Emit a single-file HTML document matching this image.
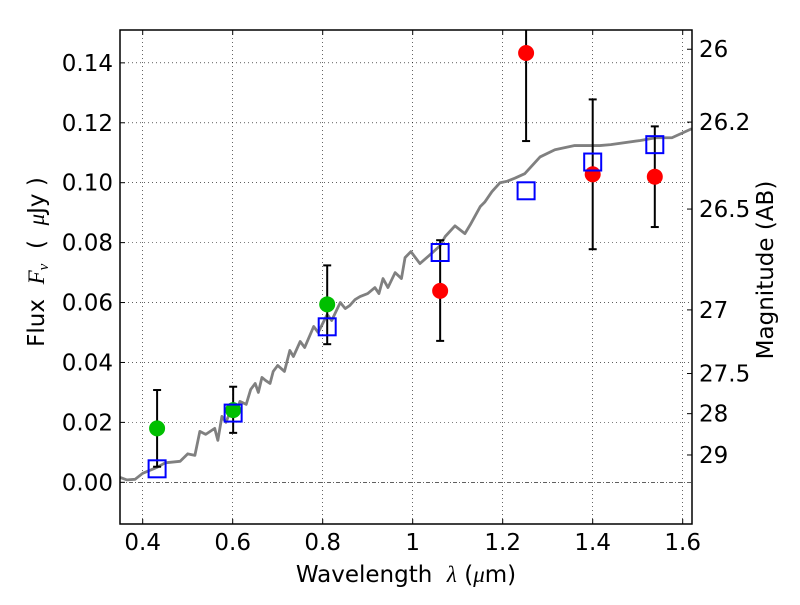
<!DOCTYPE html>
<html><head><meta charset="utf-8"><style>
body{margin:0;background:#fff;}
svg text{font-family:"DejaVu Sans","Liberation Sans",sans-serif;white-space:pre;}
</style></head><body>
<svg id="chart" width="800" height="600" xmlns="http://www.w3.org/2000/svg"></svg>
<script>
const xTicks=[0.4,0.6,0.8,1.0,1.2,1.4,1.6];
const xTickLabels=["0.4","0.6","0.8","1","1.2","1.4","1.6"];
const yTicks=[0,0.02,0.04,0.06,0.08,0.10,0.12,0.14];
const yTickLabels=["0.00","0.02","0.04","0.06","0.08","0.10","0.12","0.14"];
const magTicks=[26,26.2,26.5,27,27.5,28,29];
const magTickLabels=["26","26.2","26.5","27","27.5","28","29"];
const specWave=[0.35,0.365,0.383,0.40,0.432,0.45,0.483,0.50,0.516,0.527,0.54,0.56,0.567,0.576,0.585,0.598,0.607,0.616,0.63,0.64,0.65,0.657,0.665,0.673,0.683,0.69,0.70,0.715,0.727,0.735,0.75,0.76,0.78,0.79,0.81,0.82,0.839,0.85,0.86,0.872,0.883,0.9,0.916,0.925,0.934,0.945,0.961,0.975,0.983,0.996,1.016,1.039,1.061,1.072,1.094,1.116,1.128,1.15,1.16,1.176,1.194,1.21,1.227,1.249,1.283,1.316,1.36,1.416,1.44,1.506,1.54,1.576,1.62];
const specFlux=[0.0016,0.0008,0.001,0.003,0.005,0.0065,0.007,0.0095,0.009,0.017,0.016,0.018,0.014,0.022,0.020,0.025,0.023,0.027,0.026,0.031,0.033,0.030,0.035,0.034,0.033,0.037,0.039,0.037,0.044,0.042,0.047,0.045,0.052,0.050,0.056,0.054,0.060,0.058,0.059,0.061,0.062,0.063,0.065,0.063,0.068,0.065,0.070,0.068,0.075,0.077,0.073,0.076,0.079,0.082,0.0856,0.083,0.086,0.092,0.0935,0.097,0.100,0.1005,0.1015,0.103,0.1086,0.111,0.1124,0.1124,0.1127,0.1141,0.115,0.115,0.118];
const obsWave=[0.432,0.601,0.81,1.061,1.252,1.40,1.538];
const obsFlux=[0.018,0.0241,0.0594,0.0639,0.1433,0.1028,0.102];
const obsErrLow=[0.0052,0.0165,0.0461,0.0472,0.1139,0.0778,0.0852];
const obsErrHigh=[0.0308,0.0319,0.0724,0.0808,0.176,0.1278,0.1188];
const obsDetected=[1,1,1,0,0,0,0];
const modelFlux=[0.0045,0.0231,0.0519,0.0767,0.0973,0.1069,0.1127];

const L=120,R=692,T=30,B=524;
const X=v=>142.7+(v-0.4)*450;
const Y=v=>482.3-v*2996;
const svg=document.getElementById('chart');
const NS='http://www.w3.org/2000/svg';
function mk(tag,attrs,parent){const e=document.createElementNS(NS,tag);for(const k in attrs)e.setAttribute(k,attrs[k]);(parent||svg).appendChild(e);return e;}

const clip=mk('clipPath',{id:'pc'});mk('rect',{x:L,y:T,width:R-L,height:B-T},clip);
xTicks.forEach((v,i)=>{
  const g=mk('line',{x1:X(v),x2:X(v),y1:T,y2:B,stroke:'#000','stroke-width':0.6,'stroke-dasharray':'1,3'});
  
  
  mk('line',{x1:X(v),x2:X(v),y1:B,y2:B-5,stroke:'#000'});
  mk('line',{x1:X(v),x2:X(v),y1:T,y2:T+5,stroke:'#000'});
  const t=mk('text',{x:X(v),y:B+26,'font-size':23,'text-anchor':'middle'});t.textContent=xTickLabels[i];
  
  
});
yTicks.forEach((v,i)=>{
  const g=mk('line',{x1:L,x2:R,y1:Y(v),y2:Y(v),stroke:'#000','stroke-width':0.6,'stroke-dasharray':v===0?'4,2,1,2':'1,3'});
  
  
  mk('line',{x1:L,x2:L+5,y1:Y(v),y2:Y(v),stroke:'#000'});
  const t=mk('text',{x:L-7,y:Y(v)+8,'font-size':23,'text-anchor':'end'});t.textContent=yTickLabels[i];
  
  
});
magTicks.forEach((m,i)=>{
  const f=Math.pow(10,(23.9-m)/2.5);
  mk('line',{x1:R,x2:R-5,y1:Y(f),y2:Y(f),stroke:'#000'});
  const t=mk('text',{x:R+7,y:Y(f)+8,'font-size':23});t.textContent=magTickLabels[i];
  
  
});
const pg=mk('g',{'clip-path':'url(#pc)'});
const sp=mk('polyline',{points:specWave.map((w,i)=>X(w)+','+Y(specFlux[i])).join(' '),fill:'none',stroke:'#808080','stroke-width':2.8,'stroke-linejoin':'round'},pg);


obsWave.forEach((w,i)=>{
  const eb=mk('g',{stroke:'#000','stroke-width':2},pg);
  
  
  mk('line',{x1:X(w),x2:X(w),y1:Y(obsErrLow[i]),y2:Y(obsErrHigh[i])},eb);
  mk('line',{x1:X(w)-4,x2:X(w)+4,y1:Y(obsErrLow[i]),y2:Y(obsErrLow[i])},eb);
  mk('line',{x1:X(w)-4,x2:X(w)+4,y1:Y(obsErrHigh[i]),y2:Y(obsErrHigh[i])},eb);
  const c=mk('circle',{cx:X(w),cy:Y(obsFlux[i]),r:8,fill:obsDetected[i]?'#00bf00':'#ff0000'},pg);
  
  
  const s=mk('rect',{x:X(w)-8.5,y:Y(modelFlux[i])-8.5,width:17,height:17,fill:'none',stroke:'#0000ff','stroke-width':2},pg);
  
  
});
const fr=mk('rect',{x:L,y:T,width:R-L,height:B-T,fill:'none',stroke:'#000','stroke-width':1.5});


const xl=mk('text',{x:406,y:582,'font-size':23,'text-anchor':'middle'});
xl.innerHTML='Wavelength  <tspan font-family="Liberation Serif" font-style="italic">λ</tspan> (<tspan font-family="Liberation Serif" font-style="italic">μ</tspan>m)';


const yl=mk('text',{x:0,y:0,'font-size':23,'text-anchor':'middle',transform:'translate(44,262) rotate(-90)'});
yl.innerHTML='Flux  <tspan font-family="Liberation Serif" font-style="italic">F<tspan font-size="15" dy="4">ν</tspan></tspan><tspan dy="-4">  (  </tspan><tspan font-family="Liberation Serif" font-style="italic">μ</tspan>Jy )';


const rl=mk('text',{x:0,y:0,'font-size':23,'text-anchor':'middle',transform:'translate(773,270) rotate(-90)'});
rl.textContent='Magnitude (AB)';


</script>
</body></html>
